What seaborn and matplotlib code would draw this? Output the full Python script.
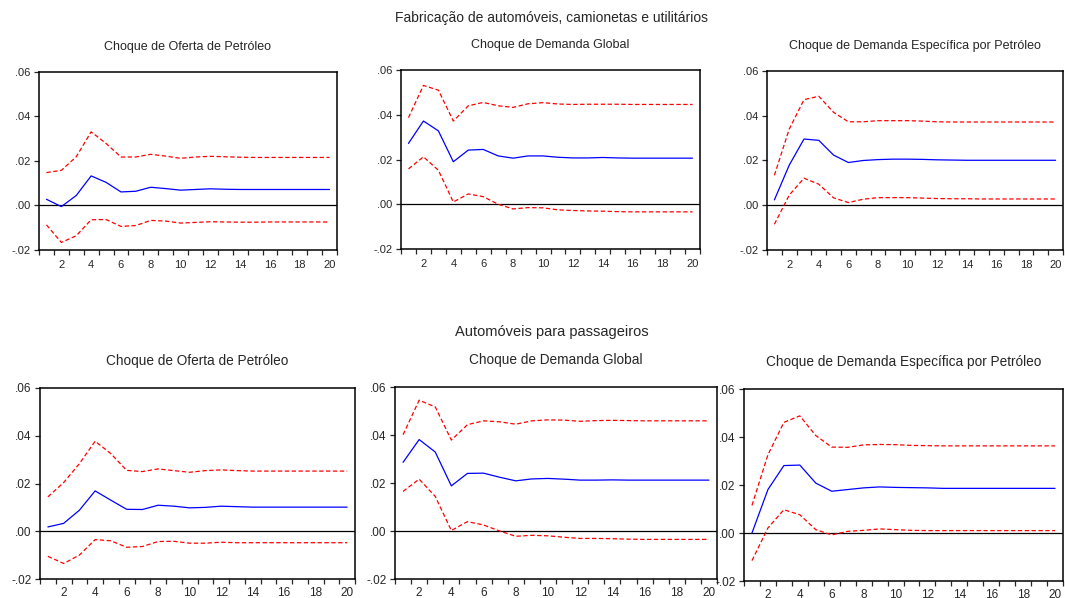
import numpy as np
import pandas as pd
import matplotlib
matplotlib.use("Agg")
import matplotlib.pyplot as plt
from matplotlib.ticker import FixedLocator, FuncFormatter
import seaborn as sns

# horizonte (períodos)
periodos = list(range(1, 21))

# Fabricação de automóveis, camionetas e utilitários
fab_oferta_irf = [0.0028, -0.0005, 0.0045, 0.0133, 0.0104, 0.0061, 0.0064, 0.0082, 0.0076, 0.0069,
                  0.0072, 0.0075, 0.0073, 0.0072, 0.0072, 0.0072, 0.0072, 0.0072, 0.0072, 0.0072]
fab_oferta_sup = [0.0148, 0.0158, 0.0219, 0.0331, 0.0279, 0.0218, 0.0218, 0.0230, 0.0222, 0.0212,
                  0.0218, 0.0221, 0.0219, 0.0217, 0.0216, 0.0216, 0.0216, 0.0216, 0.0216, 0.0216]
fab_oferta_inf = [-0.0087, -0.0166, -0.0136, -0.0064, -0.0063, -0.0094, -0.0090, -0.0067, -0.0070, -0.0079,
                  -0.0076, -0.0073, -0.0074, -0.0075, -0.0075, -0.0074, -0.0074, -0.0074, -0.0074, -0.0074]

fab_global_irf = [0.0272, 0.0372, 0.0328, 0.0190, 0.0242, 0.0245, 0.0216, 0.0206, 0.0216, 0.0216,
                  0.0210, 0.0207, 0.0207, 0.0209, 0.0207, 0.0206, 0.0206, 0.0206, 0.0206, 0.0206]
fab_global_sup = [0.0387, 0.0531, 0.0510, 0.0372, 0.0440, 0.0455, 0.0440, 0.0433, 0.0449, 0.0454,
                  0.0448, 0.0446, 0.0447, 0.0447, 0.0447, 0.0446, 0.0446, 0.0446, 0.0446, 0.0446]
fab_global_inf = [0.0158, 0.0212, 0.0152, 0.0010, 0.0046, 0.0034, 0.0000, -0.0021, -0.0015, -0.0016,
                  -0.0025, -0.0028, -0.0030, -0.0031, -0.0033, -0.0034, -0.0034, -0.0034, -0.0034, -0.0034]

fab_especifica_irf = [0.0024, 0.0179, 0.0296, 0.0290, 0.0224, 0.0191, 0.0200, 0.0204, 0.0206, 0.0206,
                      0.0205, 0.0203, 0.0202, 0.0201, 0.0201, 0.0201, 0.0201, 0.0201, 0.0201, 0.0201]
fab_especifica_sup = [0.0134, 0.0340, 0.0472, 0.0487, 0.0415, 0.0373, 0.0373, 0.0378, 0.0378, 0.0378,
                      0.0376, 0.0373, 0.0372, 0.0372, 0.0372, 0.0372, 0.0372, 0.0372, 0.0372, 0.0372]
fab_especifica_inf = [-0.0085, 0.0045, 0.0121, 0.0094, 0.0033, 0.0012, 0.0027, 0.0034, 0.0034, 0.0034,
                      0.0032, 0.0030, 0.0029, 0.0029, 0.0028, 0.0028, 0.0028, 0.0028, 0.0028, 0.0028]

# Automóveis para passageiros
pas_oferta_irf = [0.0018, 0.0033, 0.0088, 0.0169, 0.0130, 0.0092, 0.0091, 0.0109, 0.0105, 0.0098,
                  0.0100, 0.0105, 0.0103, 0.0101, 0.0101, 0.0101, 0.0101, 0.0101, 0.0101, 0.0101]
pas_oferta_sup = [0.0144, 0.0204, 0.0283, 0.0377, 0.0325, 0.0255, 0.0250, 0.0261, 0.0254, 0.0247,
                  0.0254, 0.0257, 0.0254, 0.0252, 0.0252, 0.0252, 0.0252, 0.0252, 0.0252, 0.0252]
pas_oferta_inf = [-0.0105, -0.0135, -0.0100, -0.0035, -0.0040, -0.0067, -0.0064, -0.0043, -0.0042, -0.0050,
                  -0.0050, -0.0046, -0.0048, -0.0048, -0.0048, -0.0048, -0.0048, -0.0048, -0.0048, -0.0048]

pas_global_irf = [0.0286, 0.0381, 0.0329, 0.0188, 0.0240, 0.0241, 0.0224, 0.0209, 0.0217, 0.0219,
                  0.0216, 0.0212, 0.0212, 0.0213, 0.0212, 0.0212, 0.0212, 0.0212, 0.0212, 0.0212]
pas_global_sup = [0.0401, 0.0545, 0.0517, 0.0379, 0.0443, 0.0459, 0.0455, 0.0445, 0.0459, 0.0463,
                  0.0462, 0.0457, 0.0460, 0.0461, 0.0460, 0.0459, 0.0459, 0.0459, 0.0459, 0.0459]
pas_global_inf = [0.0165, 0.0216, 0.0144, 0.0002, 0.0039, 0.0025, 0.0000, -0.0022, -0.0018, -0.0020,
                  -0.0026, -0.0031, -0.0031, -0.0032, -0.0034, -0.0035, -0.0035, -0.0035, -0.0035, -0.0035]

pas_especifica_irf = [0.0000, 0.0181, 0.0281, 0.0283, 0.0208, 0.0174, 0.0181, 0.0188, 0.0192, 0.0190,
                      0.0189, 0.0188, 0.0186, 0.0186, 0.0186, 0.0186, 0.0186, 0.0186, 0.0186, 0.0186]
pas_especifica_sup = [0.0115, 0.0326, 0.0461, 0.0488, 0.0406, 0.0358, 0.0357, 0.0367, 0.0369, 0.0368,
                      0.0365, 0.0364, 0.0363, 0.0363, 0.0363, 0.0363, 0.0363, 0.0363, 0.0363, 0.0363]
pas_especifica_inf = [-0.0115, 0.0021, 0.0097, 0.0076, 0.0014, -0.0008, 0.0007, 0.0011, 0.0017, 0.0014,
                      0.0011, 0.0010, 0.0010, 0.0010, 0.0010, 0.0010, 0.0010, 0.0010, 0.0010, 0.0010]

titulos = ["Choque de Oferta de Petróleo", "Choque de Demanda Global",
           "Choque de Demanda Específica por Petróleo"]
titulo_fab = "Fabricação de automóveis, camionetas e utilitários"
titulo_pas = "Automóveis para passageiros"

sns.set_style("ticks")
plt.rcParams['font.family'] = ['Liberation Sans', 'DejaVu Sans']

fig = plt.figure(figsize=(10.65, 5.98), dpi=100)

# posições dos painéis em pixels (esq, dir, topo, base)
caixas = [(39, 337, 72, 250), (401, 700, 70, 249), (767, 1063, 71, 250),
          (40, 355, 388, 579), (395, 717, 387, 579), (744, 1063, 389, 581)]

series = [(fab_oferta_irf, fab_oferta_sup, fab_oferta_inf),
          (fab_global_irf, fab_global_sup, fab_global_inf),
          (fab_especifica_irf, fab_especifica_sup, fab_especifica_inf),
          (pas_oferta_irf, pas_oferta_sup, pas_oferta_inf),
          (pas_global_irf, pas_global_sup, pas_global_inf),
          (pas_especifica_irf, pas_especifica_sup, pas_especifica_inf)]

W, H = 1065, 598
fmt = FuncFormatter(lambda v, p: ("%.2f" % round(v, 2)).replace("0.", ".", 1) if abs(v) > 1e-9 else ".00")

for i, ((l, r, t, b), (irf, sup, inf)) in enumerate(zip(caixas, series)):
    ax = fig.add_axes([l / W, 1 - b / H, (r - l) / W, (b - t) / H])
    baixo = i >= 3
    fs_tick = 8.5 if baixo else 8.0
    fs_tit = 9.8 if baixo else 9.0

    ax.axhline(0, color='black', lw=0.9, zorder=1)
    sns.lineplot(x=periodos, y=sup, ax=ax, color='#ff0000', lw=0.9, ls=(0, (3.5, 2)))
    sns.lineplot(x=periodos, y=inf, ax=ax, color='#ff0000', lw=0.9, ls=(0, (3.5, 2)))
    sns.lineplot(x=periodos, y=irf, ax=ax, color='#0000ff', lw=0.9)

    ax.set_xlim(0.5, 20.5)
    ax.set_ylim(-0.02, 0.06)
    ax.set_xlabel("")
    ax.set_ylabel("")
    ax.xaxis.set_major_locator(FixedLocator(range(2, 21, 2)))
    ax.xaxis.set_minor_locator(FixedLocator(np.arange(0.5, 20.6, 1.0)))
    ax.set_yticks([-0.02, 0.0, 0.02, 0.04, 0.06])
    ax.yaxis.set_major_formatter(fmt)
    ax.tick_params(axis='x', which='major', length=0, pad=5.5 if baixo else 7.0, labelsize=fs_tick)
    ax.tick_params(axis='x', which='minor', length=3.5, width=0.9, direction='out')
    ax.tick_params(axis='y', which='major', length=3.5, width=0.9, pad=2.5,
                   direction='out', labelsize=fs_tick)
    for s in ax.spines.values():
        s.set_visible(True)
        s.set_linewidth(1.1)
        s.set_color('black')
    ax.set_title(titulos[i % 3], fontsize=fs_tit, pad=16.5 if baixo else 15.5)

fig.text(551.5 / W, 1 - 18 / H, titulo_fab, ha='center', va='center', fontsize=10)
fig.text(551.5 / W, 1 - 332 / H, titulo_pas, ha='center', va='center', fontsize=10.5)

fig.savefig("out.png", dpi=100)
